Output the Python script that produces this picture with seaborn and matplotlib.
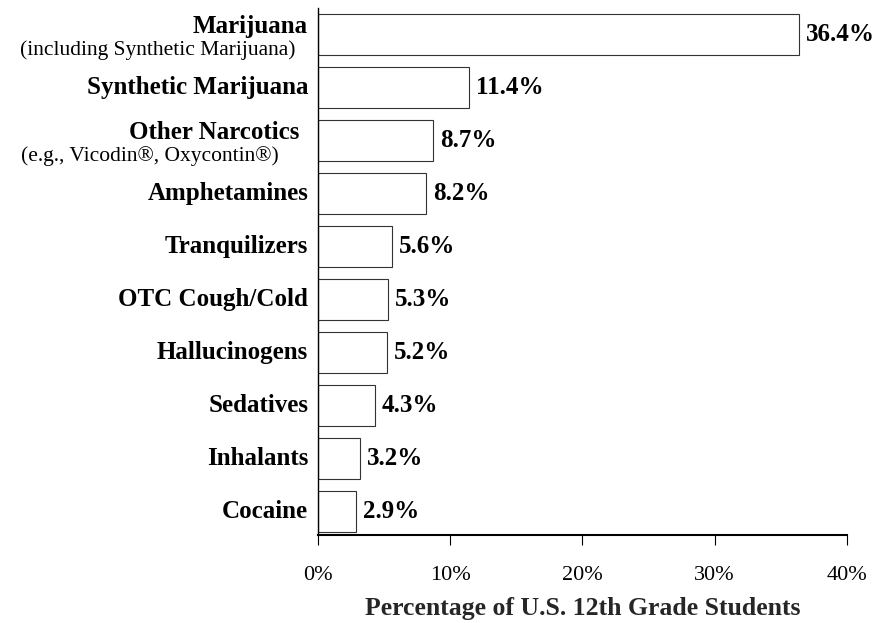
import pandas as pd
import seaborn as sns
import matplotlib.pyplot as plt
import matplotlib.transforms as mtransforms

# data
drugs = ["Marijuana", "Synthetic Marijuana", "Other Narcotics", "Amphetamines",
         "Tranquilizers", "OTC Cough/Cold", "Hallucinogens", "Sedatives",
         "Inhalants", "Cocaine"]
subtitles = ["(including Synthetic Marijuana)", "", "(e.g., Vicodin\u00ae, Oxycontin\u00ae)",
             "", "", "", "", "", "", ""]
pct = [36.4, 11.4, 8.7, 8.2, 5.6, 5.3, 5.2, 4.3, 3.2, 2.9]
xticks = [0, 10, 20, 30, 40]

df = pd.DataFrame({"drug": drugs, "pct": pct})

sns.set_style("ticks")
plt.rcParams['font.family'] = ['Liberation Serif', 'DejaVu Serif']
plt.rcParams['text.color'] = 'black'
plt.rcParams['xtick.color'] = 'black'
plt.rcParams['axes.edgecolor'] = 'black'

fig = plt.figure(figsize=(8.83, 6.23), dpi=100)
ax = fig.add_axes([0.360, 0.141, 0.599, 0.846])

sns.barplot(data=df, x="pct", y="drug", orient="h", color="white",
            edgecolor="#333333", linewidth=0.8, width=0.77, ax=ax)

ax.set_xlim(0, 40)
ax.set_ylim(9.45, -0.5)
ax.set_xticks(xticks)
ax.set_xticklabels([f"{t}%" for t in xticks], fontsize=16)
ax.set_yticks(range(len(drugs)))
ax.set_yticklabels([])
ax.tick_params(axis="y", length=0)
ax.tick_params(axis="x", length=7, width=0.8, pad=15)
ax.set_ylabel("")
ax.set_xlabel("Percentage of U.S. 12th Grade Students", fontsize=18.5,
              fontweight="bold", labelpad=9)
sns.despine(ax=ax)
ax.spines["left"].set_linewidth(1.0)
ax.spines["bottom"].set_linewidth(1.5)

# category labels left of the axis
trans = mtransforms.blended_transform_factory(ax.transAxes, ax.transData)
def shift(pts):
    return trans + mtransforms.ScaledTranslation(-pts / 72, 0, fig.dpi_scale_trans)

for i, (name, sub) in enumerate(zip(drugs, subtitles)):
    if sub:
        ax.text(0, i - 0.15, name, transform=shift(7 if i == 0 else 13),
                ha="right", va="center", fontsize=18, fontweight="bold")
        ax.text(0, i + 0.3, sub, transform=shift(16 if i == 0 else 28),
                ha="right", va="center", fontsize=15.5)
    else:
        ax.text(0, i, name, transform=shift(7), ha="right", va="center",
                fontsize=18, fontweight="bold")

# value labels
for i, v in enumerate(pct):
    ax.annotate(f"{v}%", (v, i), xytext=(5, 0), textcoords="offset points",
                ha="left", va="center", fontsize=18, fontweight="bold")

plt.savefig("out.png", dpi=100)
